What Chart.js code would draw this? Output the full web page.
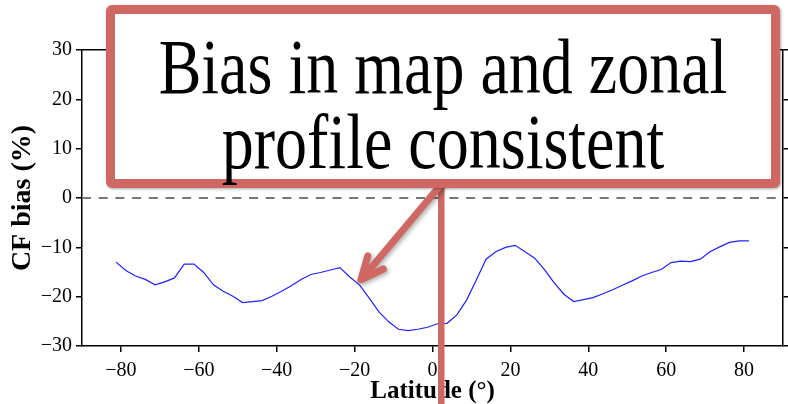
<!DOCTYPE html>
<html>
<head>
<meta charset="utf-8">
<script src="https://cdn.jsdelivr.net/npm/chart.js@4.4.1/dist/chart.umd.min.js"></script>
<style>
	body { margin: 0; background: #fff; }
	#wrap { position: relative; width: 788px; height: 404px; overflow: hidden; }
	#callout {
		position: absolute; left: 106px; top: 5px; width: 674px; height: 183px;
		box-sizing: border-box; border: 9px solid #cf6862; border-radius: 6px;
		background: #fff; box-shadow: 1px 1px 3px rgba(0, 0, 0, 0.35);
	}
	#callout div {
		position: absolute; left: 0; right: 0; top: 15px; text-align: center;
		font-family: "Liberation Serif", serif; font-size: 64px; line-height: 61px;
		color: #000; transform: scaleY(1.23); transform-origin: 50% 0; white-space: nowrap;
	}
</style>
</head>
<body>
<div id="wrap">
	<canvas id="chart" width="788" height="404"></canvas>
	<div id="callout"><div>Bias in map and zonal<br>profile consistent</div></div>
</div>
<script>
const latitude = [
	-81.25, -78.75, -76.25, -73.75, -71.25, -68.75, -66.25, -63.75, -61.25, -58.75, -56.25,
	-53.75, -51.25, -48.75, -46.25, -43.75, -41.25, -38.75, -36.25, -33.75, -31.25, -28.75,
	-26.25, -23.75, -21.25, -18.75, -16.25, -13.75, -11.25, -8.75, -6.25, -3.75, -1.25,
	1.25, 3.75, 6.25, 8.75, 11.25, 13.75, 16.25, 18.75, 21.25, 23.75, 26.25,
	28.75, 31.25, 33.75, 36.25, 38.75, 41.25, 43.75, 46.25, 48.75, 51.25, 53.75,
	56.25, 58.75, 61.25, 63.75, 66.25, 68.75, 71.25, 73.75, 76.25, 78.75, 81.25,
];
const cfBias = [
	-13.0, -14.7, -15.8, -16.5, -17.6, -17.0, -16.2, -13.4, -13.4, -15.1, -17.6,
	-18.9, -19.9, -21.2, -21.0, -20.8, -19.9, -18.9, -17.8, -16.5, -15.5, -15.1,
	-14.6, -14.1, -16.0, -17.6, -20.3, -23.1, -25.1, -26.6, -26.9, -26.6, -26.2,
	-25.5, -25.4, -23.7, -20.7, -16.6, -12.4, -10.9, -10.0, -9.6, -10.9, -12.2,
	-14.5, -17.2, -19.5, -21.0, -20.6, -20.2, -19.4, -18.6, -17.7, -16.8, -15.8,
	-15.1, -14.5, -13.1, -12.8, -12.9, -12.4, -10.9, -9.9, -9.0, -8.7, -8.7,
];
const xTicks = [-80, -60, -40, -20, 0, 20, 40, 60, 80];
const yTicks = [-30, -20, -10, 0, 10, 20, 30];

Chart.defaults.font.family = "'Liberation Serif', 'Times New Roman', serif";
Chart.defaults.color = "#000";

const fmt = (v) => (v < 0 ? "\u2212" + Math.abs(v) : String(v));
const setX = (s) => { s.ticks = xTicks.map((v) => ({ value: v })); };
const setY = (s) => { s.ticks = yTicks.map((v) => ({ value: v })); };
const tickGrid = { drawOnChartArea: false, drawTicks: true, tickLength: 6, color: "#000", lineWidth: 1.5 };
const frame = { display: true, color: "#000", width: 1.5 };

// arrow + pointer line of the callout, placed in data units
const callout = {
	id: "callout",
	afterDraw(chart) {
		const { ctx, scales: { x, y } } = chart;
		const x0 = x.getPixelForValue(2.05), y0 = y.getPixelForValue(2.6);
		const x1 = x.getPixelForValue(-18.4), y1 = y.getPixelForValue(-16.6);
		const xl = x.getPixelForValue(2.25);
		ctx.save();
		ctx.strokeStyle = "#cf6862";
		ctx.lineCap = "round";
		ctx.lineJoin = "round";

		ctx.lineWidth = 6.5;
		ctx.beginPath();
		ctx.moveTo(xl, y0);
		ctx.lineTo(xl, chart.height + 5);
		ctx.stroke();

		ctx.shadowColor = "rgba(0,0,0,0.3)";
		ctx.shadowBlur = 4;
		ctx.shadowOffsetX = 2;
		ctx.shadowOffsetY = 2;
		ctx.lineWidth = 7;
		const ang = Math.atan2(y0 - y1, x0 - x1);
		const head = 25, spread = 0.42;
		ctx.beginPath();
		ctx.moveTo(x0, y0);
		ctx.lineTo(x1, y1);
		ctx.moveTo(x1 + head * Math.cos(ang - spread), y1 + head * Math.sin(ang - spread));
		ctx.lineTo(x1, y1);
		ctx.lineTo(x1 + head * Math.cos(ang + spread), y1 + head * Math.sin(ang + spread));
		ctx.stroke();
		ctx.restore();
	},
};

new Chart(document.getElementById("chart"), {
	type: "line",
	data: {
		datasets: [
			{
				data: latitude.map((lat, i) => ({ x: lat, y: cfBias[i] })),
				borderColor: "#2020ff",
				borderWidth: 1.2,
				pointRadius: 0,
				tension: 0,
				xAxisID: "x",
				yAxisID: "y",
			},
			{
				data: [{ x: -90, y: 0 }, { x: 90, y: 0 }],
				borderColor: "#777",
				borderWidth: 2,
				borderDash: [9, 7.7],
				pointRadius: 0,
				xAxisID: "x",
				yAxisID: "y",
			},
		],
	},
	options: {
		responsive: false,
		animation: false,
		layout: { padding: 0 },
		plugins: { legend: { display: false }, tooltip: { enabled: false } },
		scales: {
			x: {
				type: "linear", position: "bottom", min: -90, max: 90,
				afterBuildTicks: setX,
				afterFit: (s) => { s.height = 58; },
				ticks: { padding: 7, font: { size: 20 }, callback: fmt, maxRotation: 0, autoSkip: false },
				grid: tickGrid,
				border: frame,
				title: { display: true, text: "Latitude (°)", font: { size: 25, weight: "bold", lineHeight: 1 }, padding: 0 },
			},
			x2: {
				type: "linear", position: "top", min: -90, max: 90,
				afterBuildTicks: setX,
				afterFit: (s) => { s.height = 50; },
				ticks: { display: false },
				grid: tickGrid,
				border: frame,
			},
			y: {
				type: "linear", position: "left", min: -30, max: 30,
				afterBuildTicks: setY,
				afterFit: (s) => { s.width = 82; },
				ticks: { padding: 4, font: { size: 20 }, callback: fmt },
				grid: tickGrid,
				border: frame,
				title: { display: true, text: "CF bias (%)", font: { size: 28, weight: "bold", lineHeight: 1 }, padding: { top: 9, bottom: 0 } },
			},
			y2: {
				type: "linear", position: "right", min: -30, max: 30,
				afterBuildTicks: setY,
				afterFit: (s) => { s.width = 5; },
				ticks: { display: false },
				grid: tickGrid,
				border: frame,
			},
		},
	},
	plugins: [callout],
});
</script>
</body>
</html>
